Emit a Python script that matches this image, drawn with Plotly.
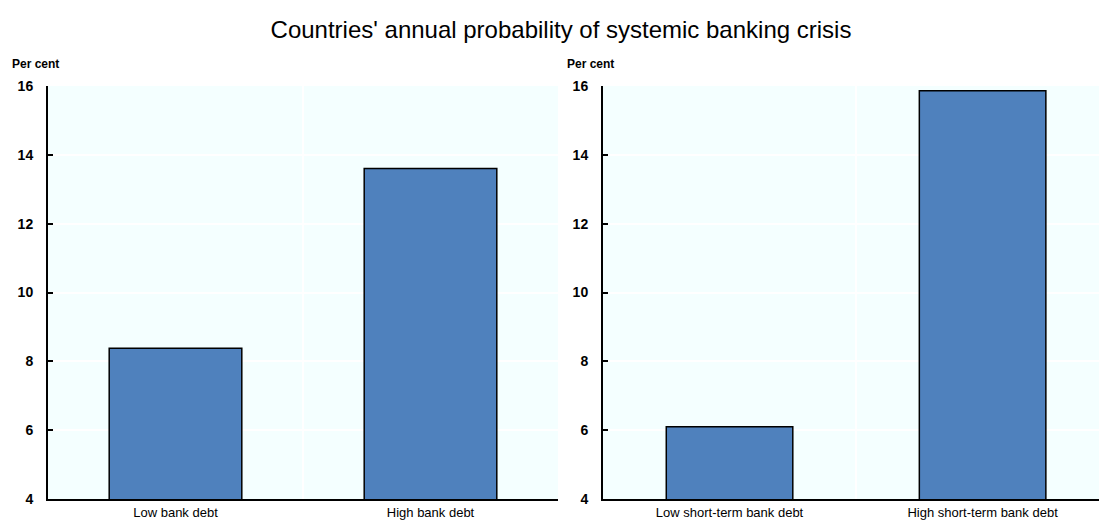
import plotly.graph_objects as go

# Annual probability of a systemic banking crisis (per cent)
debt_categories = ["Low bank debt", "High bank debt"]
debt_values = [8.38, 13.6]

st_categories = ["Low short-term bank debt", "High short-term bank debt"]
st_values = [6.1, 15.86]

y_ticks = [4, 6, 8, 10, 12, 14, 16]

BAR_COLOR = "#4F81BD"
PLOT_BG = "#F4FFFF"
SANS = "Liberation Sans, Arial, sans-serif"

W, H = 1099, 520
ML, MR, MT, MB = 48, 0, 86, 21
pw = W - ML - MR
ph = H - MT - MB

fig = go.Figure()
fig.add_trace(go.Bar(x=debt_categories, y=debt_values, xaxis="x", yaxis="y",
                     marker=dict(color=BAR_COLOR, line=dict(color="black", width=1.5)),
                     width=0.52, showlegend=False))
fig.add_trace(go.Bar(x=st_categories, y=st_values, xaxis="x2", yaxis="y2",
                     marker=dict(color=BAR_COLOR, line=dict(color="black", width=1.5)),
                     width=0.5, showlegend=False))

d1 = [0, (558 - ML) / pw]
d2 = [(603 - ML) / pw, 1.0]

xcommon = dict(type="category", showline=True, linecolor="black", linewidth=2,
               tickson="boundaries", showgrid=True, gridcolor="white", gridwidth=1.5,
               ticks="", tickfont=dict(family=SANS, size=13, color="black"),
               zeroline=False, fixedrange=True)
ycommon = dict(range=[4, 16], tickvals=y_ticks, showline=True, linecolor="black",
               linewidth=2, ticks="inside", ticklen=5, tickwidth=2, tickcolor="black",
               showgrid=True, gridcolor="white", gridwidth=1.5, zeroline=False,
               tickfont=dict(family=SANS, size=14, color="black", weight="bold"),
               ticklabelstandoff=10)

per_cent_y = (H - 64 - MB) / ph

fig.update_layout(
    width=W, height=H,
    margin=dict(l=ML, r=MR, t=MT, b=MB),
    paper_bgcolor="white", plot_bgcolor=PLOT_BG,
    title=dict(text="Countries' annual probability of systemic banking crisis",
               x=561 / W, xanchor="center", y=1 - 30 / H, yanchor="middle",
               font=dict(family=SANS, size=24, color="black")),
    xaxis=dict(domain=d1, anchor="y", range=[-0.5, 1.5], **xcommon),
    xaxis2=dict(domain=d2, anchor="y2", range=[-0.5, 1.46], **xcommon),
    yaxis=dict(anchor="x", **ycommon),
    yaxis2=dict(anchor="x2", **ycommon),
    annotations=[
        dict(text="Per cent", xref="paper", yref="paper",
             x=(10 - ML) / pw, y=per_cent_y,
             xanchor="left", yanchor="middle", showarrow=False,
             font=dict(family=SANS, size=12, color="black", weight="bold")),
        dict(text="Per cent", xref="paper", yref="paper",
             x=(565 - ML) / pw, y=per_cent_y,
             xanchor="left", yanchor="middle", showarrow=False,
             font=dict(family=SANS, size=12, color="black", weight="bold")),
    ],
)

fig.write_html("out.html")
